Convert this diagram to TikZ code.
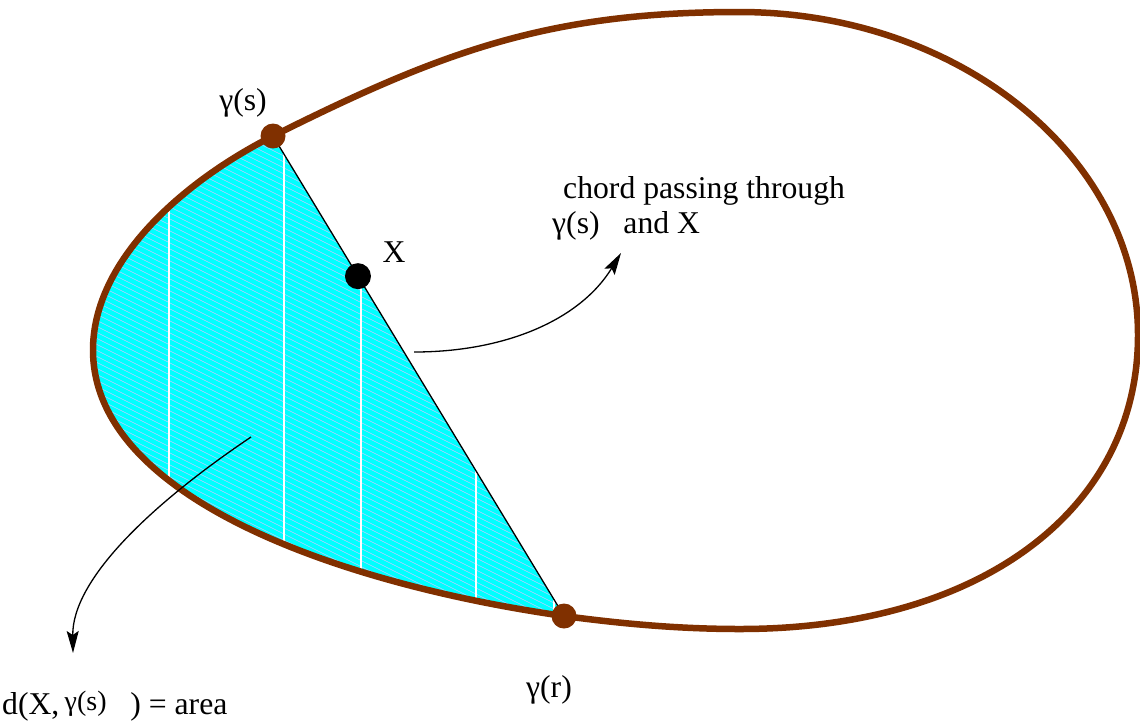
\documentclass[tikz,border=0pt]{standalone}
\usepackage{fontspec}
\setmainfont{Liberation Serif}
\usetikzlibrary{positioning}
\usetikzlibrary{calc}
\usetikzlibrary{arrows.meta}
\definecolor{rim}{RGB}{128,48,0}
\definecolor{aqua}{RGB}{0,255,255}
\definecolor{hatch}{RGB}{190,205,255}
\tikzset{
    x=1pt, y=-1pt,
    >={Stealth[length=22pt,width=12pt,inset=4pt]},
    rim path/.style={
        insert path={(273,136) .. controls (443,51) and (549,12) .. (739,12)
            .. controls (959,12) and (1138,157) .. (1138,335)
            .. controls (1138,511) and (979,629) .. (740,629)
            .. controls (680,629) and (624,624) .. (564,616)
            .. controls (346,585) and (93,500) .. (93,350)
            .. controls (93,260) and (184,181) .. cycle}
    },
    rimline/.style={
        draw=rim,
        line width=6.5pt
    },
    rimdot/.style={
        circle,
        fill=rim,
        minimum size=25pt,
        inner sep=0pt
    },
    pointdot/.style={
        circle,
        fill=black,
        minimum size=26pt,
        inner sep=0pt
    },
    hatchline/.style={
        draw=hatch,
        line width=0.6pt
    },
    chord/.style={
        draw,
        line width=1.3pt
    },
    pointer/.style={
        draw,
        ->,
        line width=1.3pt
    },
    lbl/.style={
        font=\fontsize{31.7}{35}\selectfont,
        inner sep=0pt
    }
}
\begin{document}
\begin{tikzpicture}
    \useasboundingbox (0,0) rectangle (1140,724);

    \coordinate (gs) at (273,136);
    \coordinate (gr) at (564,616);
    \coordinate (xp) at ($(gs)!0.292!(gr)$);

    % shaded piece cut off by the chord
    \begin{scope}
        \clip ($(gr)!1.5!(gs)$) -- ($(gs)!1.5!(gr)$) -- (-10,856) -- (-10,-104) -- cycle;
        \clip[rim path];
        \fill[aqua] (0,0) rectangle (1140,724);
        \foreach \k in {24,30,...,456}
            \draw[hatchline] (80,\k) -- ++(520,260);
        \foreach \x in {169,284,361,476,554}
            \draw[white, line width=1.2pt] (\x,100) -- (\x,650);
    \end{scope}

    \draw[chord] (gs) -- (gr);
    \path[rimline, rim path];

    \node[rimdot] (sdot) at (gs) {};
    \node[rimdot] (rdot) at (gr) {};
    \node[pointdot] (xdot) at (xp) {};

    \node[lbl] (slbl) at (243,103) {γ(s)};
    \node[lbl] (rlbl) at (549,690) {γ(r)};
    \node[lbl] (xlbl) at (394,252) {X};
    \node[lbl, anchor=north west, align=left] (chordlbl) at (563,176)
        {chord passing through\\\hspace*{-11pt}γ(s)\ \ \ and X};
    \node[lbl, anchor=base west] (arealbl) at (2,714)
        {d(X,\,\raisebox{4pt}{\fontsize{28}{30}\selectfont γ(s)}\ \ \ ) = area};

    \coordinate (chordfoot) at (414,352);
    \coordinate (chordtip) at (621,253);
    \coordinate (areafoot) at (251,437);
    \coordinate (areatip) at (73,653);
    \draw[pointer] (chordfoot) .. controls (505,352) and (580,320) .. (chordtip);
    \draw[pointer] (areafoot) .. controls (150,505) and (72,580) .. (areatip);
\end{tikzpicture}
\end{document}
